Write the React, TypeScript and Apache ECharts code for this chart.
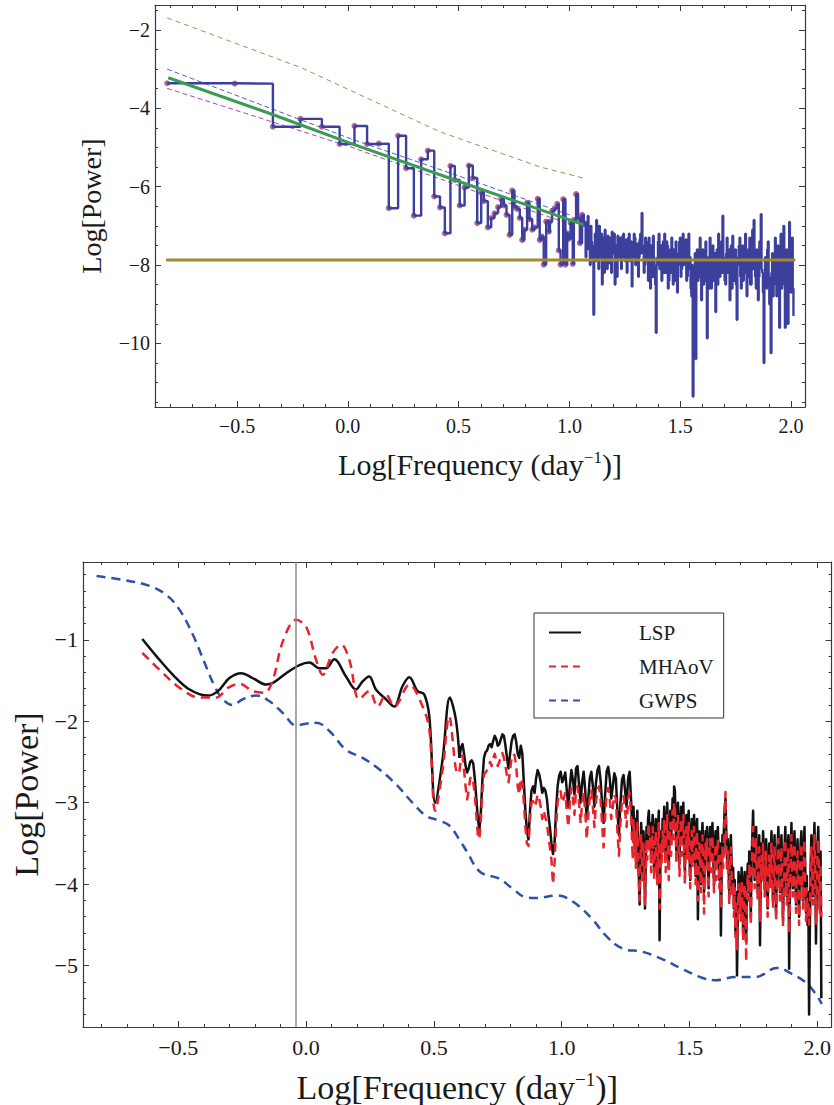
import React, { useEffect, useRef } from "react";
import * as echarts from "echarts";

const FONT = "'Liberation Serif', 'Times New Roman', serif";

// ---------------- TOP PANEL DATA ----------------
// low-frequency binned periodogram (points with dots)
const binX = [
  -0.815, -0.51, -0.338, -0.214, -0.117, -0.037, 0.03, 0.087, 0.14, 0.185,
  0.227, 0.263, 0.298, 0.331, 0.361, 0.39, 0.416, 0.438, 0.463, 0.483,
  0.505, 0.527, 0.546, 0.564, 0.584, 0.602, 0.614, 0.632, 0.647, 0.662,
  0.678, 0.692, 0.704, 0.716, 0.73, 0.742, 0.752, 0.764, 0.776, 0.787,
  0.797, 0.809, 0.82, 0.832, 0.842, 0.857, 0.866, 0.874, 0.884, 0.895,
  0.907, 0.912, 0.922, 0.934, 0.945, 0.952, 0.96, 0.972, 0.982, 0.99,
  0.994, 1.005, 1.015, 1.02, 1.03, 1.039, 1.047, 1.057, 1.065,
];
const binY = [
  -3.36, -3.37, -4.47, -4.27, -4.47, -4.91, -4.45, -4.91, -4.9, -6.55,
  -4.7, -5.53, -6.74, -5.3, -5.08, -6.25, -6.53, -7.19, -5.47, -5.83,
  -6.48, -6.02, -5.46, -5.78, -6.93, -6.15, -6.37, -7.04, -6.8, -6.68,
  -6.52, -6.32, -6.48, -6.72, -7.23, -6.1, -6.51, -6.57, -6.8, -7.36,
  -7.1, -6.41, -6.83, -7.1, -7.04, -6.31, -7.36, -7.27, -7.99, -6.89,
  -7.15, -6.89, -6.62, -6.55, -6.44, -7.63, -7.99, -6.32, -7.99, -7.19,
  -7.34, -6.92, -7.97, -6.85, -6.19, -6.8, -7.44, -6.72, -6.96,
];
// high-frequency unbinned part (no dots), sampled from x = 1.07 in steps of 0.0032
const noiseStart = 1.07;
const noiseStep = 0.0032;
const noiseY = [
  -6.9, -7.8, -7.5, -7.1, -6.75, -7.6, -7.3, -8.0, -7.0, -7.4,
  -7.6, -7.9, -9.27, -7.5, -7.2, -7.9, -6.85, -7.3, -7.4, -8.1,
  -7.0, -7.5, -7.8, -7.2, -8.5, -7.7, -7.3, -8.2, -7.1, -7.6,
  -7.6, -8.1, -7.25, -7.7, -7.95, -7.3, -7.4, -8.2, -7.15, -7.6,
  -7.7, -7.2, -8.5, -7.8, -7.5, -8.3, -7.25, -7.7, -7.8, -7.35,
  -7.3, -8.1, -7.55, -7.25, -7.2, -7.8, -7.9, -7.5, -7.35, -8.2,
  -7.6, -7.3, -7.2, -7.9, -7.7, -7.4, -8.55, -7.8, -7.5, -7.2,
  -7.3, -8.0, -7.9, -7.5, -7.45, -8.3, -7.8, -7.35, -7.2, -7.7,
  -6.67, -7.5, -7.6, -8.2, -8.0, -7.3, -7.4, -7.9, -7.9, -8.4,
  -7.3, -7.8, -8.6, -7.5, -7.6, -8.3, -7.25, -7.8, -8.1, -8.5,
  -9.73, -8.0, -7.8, -7.4, -7.2, -8.1, -7.9, -7.5, -8.4, -7.9,
  -7.4, -8.2, -7.2, -7.7, -8.2, -7.4, -7.5, -8.6, -8.4, -7.7,
  -7.6, -8.2, -7.3, -7.9, -8.5, -7.6, -7.8, -8.4, -7.4, -7.9,
  -8.7, -8.0, -7.7, -7.4, -7.3, -8.3, -8.1, -7.6, -7.2, -8.0,
  -7.9, -7.5, -7.35, -8.4, -8.3, -7.7, -7.2, -8.1, -7.8, -8.6,
  -8.8, -8.0, -11.36, -8.5, -8.2, -7.7, -10.4, -8.1, -7.6, -8.4,
  -8.3, -7.8, -7.3, -8.2, -8.9, -7.7, -7.6, -8.5, -8.4, -7.9,
  -7.4, -8.3, -9.87, -8.0, -7.8, -8.6, -7.3, -7.9, -8.6, -8.1,
  -7.5, -8.4, -8.1, -7.7, -9.2, -8.0, -7.6, -8.5, -7.2, -7.9,
  -8.3, -7.6, -7.4, -8.2, -6.74, -7.8, -7.9, -8.4, -8.5, -7.7,
  -7.3, -8.2, -8.0, -7.6, -8.9, -8.1, -7.5, -8.6, -7.25, -7.9,
  -8.4, -8.1, -7.6, -8.5, -9.4, -8.0, -7.8, -7.5, -7.3, -8.3,
  -8.6, -7.9, -7.5, -8.4, -8.2, -7.6, -7.2, -8.0, -8.8, -8.3,
  -7.6, -7.9, -7.3, -8.5, -8.5, -7.8, -7.1, -8.1, -6.85, -7.7,
  -8.3, -8.6, -7.6, -8.0, -8.9, -8.3, -7.4, -7.8, -6.7, -8.1,
  -8.2, -8.7, -10.5, -8.4, -7.8, -8.0, -8.6, -7.6, -7.4, -8.3,
  -9.0, -8.6, -10.25, -8.2, -7.7, -8.8, -8.4, -7.9, -7.3, -8.5,
  -8.8, -8.1, -7.5, -8.7, -9.6, -8.2, -7.2, -8.6, -8.5, -7.9,
  -7.0, -8.4, -9.6, -8.1, -7.6, -8.8, -9.5, -8.0, -6.9, -8.3,
  -8.7, -7.8, -7.3, -8.6, -9.3,
];
const fitX = [-0.81, -0.333, 0.01, 0.589, 1.063];
const fitY = [-3.22, -4.17, -4.89, -6.04, -6.97];
const upperX = [-0.815, 0.01, 0.589, 1.0];
const upperY = [-3.0, -4.77, -5.9, -6.72];
const lowerX = [-0.815, 0.01, 0.589, 1.0];
const lowerY = [-3.49, -4.98, -6.15, -6.95];
const sigX = [-0.815, -0.207, 0.416, 0.87, 1.063];
const sigY = [-1.69, -2.97, -4.6, -5.5, -5.78];
const whiteX = [-0.82, 2.02];
const whiteLevel = -7.87;

// ---------------- BOTTOM PANEL DATA ----------------
const gwpsX = [
  -0.82, -0.716, -0.612, -0.547, -0.495, -0.443, -0.397, -0.358, -0.326, -0.287,
  -0.248, -0.195, -0.143, -0.091, -0.039, 0.0, 0.039, 0.091, 0.156, 0.221,
  0.286, 0.352, 0.416, 0.469, 0.521, 0.56, 0.599, 0.629, 0.681, 0.754,
  0.806, 0.858, 0.9, 0.983, 1.046, 1.12, 1.172, 1.237, 1.315, 1.393,
  1.471, 1.549, 1.602, 1.68, 1.758, 1.842, 1.9, 1.966, 2.018,
];
const gwpsY = [
  -0.217, -0.266, -0.339, -0.449, -0.633, -0.939, -1.285, -1.57, -1.73, -1.8,
  -1.73, -1.685, -1.755, -1.9, -2.05, -2.03, -2.02, -2.12, -2.35, -2.45,
  -2.59, -2.775, -3.0, -3.16, -3.22, -3.28, -3.45, -3.6, -3.85, -3.93,
  -4.05, -4.16, -4.17, -4.14, -4.22, -4.43, -4.63, -4.79, -4.83, -4.92,
  -5.04, -5.15, -5.18, -5.14, -5.14, -5.03, -5.1, -5.24, -5.47,
];
const lspLowX = [
  -0.641, -0.586, -0.521, -0.456, -0.384, -0.345, -0.3, -0.254, -0.209, -0.156,
  -0.13, -0.078, -0.026, 0.013, 0.052, 0.078, 0.11, 0.156, 0.195, 0.221,
  0.247, 0.273, 0.3125, 0.345, 0.377, 0.404, 0.436, 0.462, 0.482, 0.505,
  0.534, 0.5625, 0.586, 0.6,
];
const lspLowY = [
  -0.99, -1.2, -1.43, -1.61, -1.685, -1.63, -1.47, -1.41, -1.47, -1.55,
  -1.53, -1.41, -1.31, -1.28, -1.35, -1.35, -1.24, -1.45, -1.61, -1.51,
  -1.45, -1.61, -1.73, -1.82, -1.57, -1.46, -1.63, -1.67, -1.94, -3.0,
  -2.47, -1.71, -1.98, -2.45,
];
const mhaovLowX = [
  -0.641, -0.573, -0.495, -0.417, -0.352, -0.306, -0.26, -0.209, -0.163, -0.13,
  -0.091, -0.039, 0.0, 0.039, 0.065, 0.104, 0.137, 0.169, 0.208, 0.247,
  0.28, 0.3125, 0.345, 0.404, 0.456, 0.482, 0.505, 0.534, 0.56, 0.592, 0.6,
];
const mhaovLowY = [
  -1.16, -1.37, -1.59, -1.71, -1.71, -1.59, -1.54, -1.63, -1.65, -1.49,
  -1.02, -0.755, -0.84, -1.245, -1.43, -1.16, -1.06, -1.245, -1.73, -1.63,
  -1.82, -1.67, -1.82, -1.55, -1.82, -2.1, -3.1, -2.6, -1.94, -2.63, -2.62,
];
// middle part, sampled from x = 0.600 in steps of 0.006 (to 1.278)
const midStart = 0.6;
const midStep = 0.006;
const lspMidY = [
  -2.45, -2.32, -2.28, -2.4, -2.55, -2.63, -2.58, -2.5, -2.48, -2.52,
  -2.7, -2.95, -3.2, -3.33, -3.1, -2.7, -2.45, -2.38, -2.36, -2.3,
  -2.28, -2.32, -2.24, -2.18, -2.22, -2.3, -2.28, -2.22, -2.16, -2.18,
  -2.3, -2.45, -2.58, -2.4, -2.25, -2.18, -2.16, -2.25, -2.4, -2.45,
  -2.3, -2.4, -2.75, -3.1, -3.35, -3.45, -3.1, -2.85, -2.8, -2.88,
  -2.7, -2.6, -2.65, -2.75, -2.88, -2.82, -2.85, -2.95, -3.15, -3.3,
  -3.5, -3.63, -3.5, -3.1, -2.8, -2.67, -2.62, -2.75, -2.7, -2.63,
  -2.85, -3.05, -2.8, -2.6, -2.72, -2.9, -2.58, -2.55, -2.78, -3.0,
  -2.75, -2.62, -2.85, -3.2, -2.95, -2.7, -2.62, -2.8, -3.05, -2.76,
  -2.6, -2.55, -2.72, -3.0, -3.25, -2.9, -2.62, -2.56, -2.7, -2.95,
  -2.8, -2.64, -2.7, -3.1, -3.4, -3.0, -2.72, -2.66, -2.85, -3.05,
  -2.7, -2.62, -3.0, -3.45,
];
const mhaovMidY = [
  -2.62, -2.45, -2.42, -2.6, -2.8, -2.96, -2.85, -2.7, -2.68, -2.75,
  -2.9, -3.15, -3.4, -3.45, -3.2, -2.85, -2.65, -2.63, -2.6, -2.55,
  -2.5, -2.55, -2.45, -2.4, -2.48, -2.55, -2.5, -2.42, -2.39, -2.45,
  -2.55, -2.67, -2.75, -2.6, -2.45, -2.4, -2.42, -2.55, -2.8, -2.9,
  -2.7, -2.75, -3.0, -3.3, -3.5, -3.53, -3.2, -3.0, -2.98, -3.05,
  -3.0, -2.9, -2.95, -3.05, -3.2, -3.1, -3.18, -3.25, -3.4, -3.55,
  -3.7, -4.0, -3.75, -3.3, -3.0, -2.9, -2.86, -3.0, -2.95, -2.88,
  -3.1, -3.3, -3.0, -2.82, -2.95, -3.15, -2.85, -2.8, -3.0, -3.25,
  -3.0, -2.88, -3.1, -3.45, -3.15, -2.92, -2.85, -3.05, -3.3, -3.0,
  -2.85, -2.8, -2.95, -3.25, -3.55, -3.15, -2.88, -2.82, -2.95, -3.2,
  -3.05, -2.9, -2.95, -3.35, -3.65, -3.25, -2.98, -2.92, -3.1, -3.3,
  -2.95, -2.88, -3.2, -3.7,
];
// dense high-frequency part, sampled from x = 1.281 in steps of 0.003
const hiStart = 1.281;
const hiStep = 0.003;
const lspHiY = [
  -3.05, -3.4, -3.2, -3.65, -3.3, -3.1, -3.55, -3.9, -4.25, -3.6,
  -3.25, -3.5, -3.85, -3.35, -3.6, -4.3, -3.7, -3.3, -3.55, -3.2,
  -3.1, -3.45, -3.25, -3.7, -3.35, -3.15, -3.5, -3.85, -3.4, -3.2,
  -3.55, -3.9, -3.3, -3.1, -4.69, -3.8, -3.35, -3.6, -3.2, -3.45,
  -3.05, -3.35, -3.7, -3.25, -3.0, -3.45, -3.8, -3.3, -3.1, -3.5,
  -3.2, -2.95, -3.3, -2.8, -2.85, -3.25, -3.6, -3.15, -3.0, -3.4,
  -3.75, -3.3, -3.05, -3.5, -3.2, -3.0, -3.45, -3.85, -3.4, -3.15,
  -3.55, -3.25, -3.1, -3.6, -3.95, -3.4, -3.2, -3.65, -3.35, -3.15,
  -3.5, -3.9, -3.3, -3.2, -4.43, -3.7, -3.35, -3.6, -4.0, -3.45,
  -3.25, -3.6, -4.1, -3.7, -3.35, -3.55, -3.3, -3.8, -4.05, -3.5,
  -3.3, -3.7, -3.45, -3.25, -3.65, -4.0, -3.55, -3.35, -3.8, -3.45,
  -3.3, -3.6, -3.95, -3.5, -4.63, -3.85, -3.4, -3.65, -3.3, -3.05,
  -2.95, -3.35, -3.7, -3.45, -3.8, -4.15, -3.6, -3.4, -3.75, -4.05,
  -3.8, -4.3, -3.95, -4.6, -4.1, -5.12, -4.4, -3.85, -4.25, -3.9,
  -4.35, -3.8, -4.1, -4.6, -4.05, -3.85, -4.3, -4.7, -4.0, -3.75,
  -4.1, -3.6, -3.85, -4.4, -3.7, -3.4, -3.1, -3.55, -3.95, -3.5,
  -3.3, -3.75, -4.1, -3.6, -3.4, -4.75, -3.9, -3.5, -3.8, -3.35,
  -3.6, -4.05, -3.7, -3.45, -3.85, -4.3, -3.75, -3.5, -3.95, -3.6,
  -3.35, -3.8, -4.2, -3.65, -3.4, -3.9, -4.35, -3.8, -3.5, -3.3,
  -3.7, -4.1, -3.6, -3.4, -3.85, -4.45, -3.95, -3.55, -3.3, -3.75,
  -4.15, -3.65, -3.4, -5.04, -4.1, -3.6, -3.25, -3.7, -4.05, -3.55,
  -3.35, -3.8, -4.25, -3.7, -3.45, -3.9, -4.4, -3.85, -3.5, -3.35,
  -3.75, -4.2, -3.6, -3.3, -3.8, -4.35, -3.9, -4.5, -4.1, -5.6,
  -4.6, -3.8, -3.4, -3.65, -4.15, -3.55, -3.25, -3.7, -4.73, -4.0,
  -3.5, -3.3, -3.85, -4.3, -3.6, -5.4,
];
const mhaovHiY = [
  -3.2, -3.55, -3.35, -3.8, -3.45, -3.25, -3.7, -4.0, -4.2, -3.75,
  -3.4, -3.65, -4.0, -3.5, -3.75, -4.25, -3.85, -3.45, -3.7, -3.35,
  -3.25, -3.6, -3.4, -3.85, -3.5, -3.3, -3.65, -3.95, -3.55, -3.35,
  -3.7, -4.0, -3.45, -3.25, -4.3, -3.95, -3.5, -3.75, -3.35, -3.6,
  -3.2, -3.5, -3.85, -3.4, -3.15, -3.6, -3.95, -3.45, -3.25, -3.65,
  -3.35, -3.1, -3.45, -3.0, -3.05, -3.4, -3.75, -3.3, -3.15, -3.55,
  -3.9, -3.45, -3.2, -3.65, -3.35, -3.15, -3.6, -4.0, -3.55, -3.3,
  -3.7, -3.4, -3.25, -3.75, -4.05, -3.55, -3.35, -3.8, -3.5, -3.3,
  -3.65, -4.0, -3.45, -3.35, -4.2, -3.85, -3.5, -3.75, -4.1, -3.6,
  -3.4, -3.75, -4.36, -3.85, -3.5, -3.7, -3.45, -3.95, -4.15, -3.65,
  -3.45, -3.85, -3.6, -3.4, -3.8, -4.1, -3.7, -3.5, -3.95, -3.6,
  -3.45, -3.75, -4.05, -3.65, -4.3, -3.95, -3.55, -3.8, -3.45, -3.2,
  -2.87, -3.5, -3.85, -3.6, -3.95, -4.25, -3.75, -3.55, -3.9, -4.15,
  -3.95, -4.4, -4.05, -4.65, -4.2, -4.8, -4.5, -4.0, -4.35, -4.05,
  -4.45, -3.95, -4.2, -4.7, -4.15, -4.0, -4.4, -4.95, -4.1, -3.9,
  -4.2, -3.75, -4.0, -4.5, -3.85, -3.55, -3.3, -3.7, -4.05, -3.65,
  -3.45, -3.9, -4.2, -3.75, -3.55, -4.45, -4.0, -3.65, -3.95, -3.5,
  -3.75, -4.15, -3.85, -3.6, -4.0, -4.4, -3.9, -3.65, -4.05, -3.75,
  -3.5, -3.95, -4.3, -3.8, -3.55, -4.05, -4.45, -3.95, -3.65, -3.45,
  -3.85, -4.2, -3.75, -3.55, -4.0, -4.5, -4.05, -3.7, -3.45, -3.9,
  -4.25, -3.8, -3.55, -4.6, -4.2, -3.75, -3.4, -3.85, -4.15, -3.7,
  -3.5, -3.95, -4.35, -3.85, -3.6, -4.05, -4.5, -4.0, -3.65, -3.5,
  -3.9, -4.3, -3.75, -3.45, -3.95, -4.45, -4.05, -4.4, -4.25, -4.5,
  -4.4, -3.95, -3.55, -3.8, -4.25, -3.7, -3.4, -3.85, -4.5, -4.1,
  -3.65, -3.45, -3.95, -4.35, -3.75, -4.4,
];
const markerLineX = -0.035;

// tick values
const xMajors = [-0.5, 0, 0.5, 1, 1.5, 2];
const topYMajors = [-10, -8, -6, -4, -2];
const botYMajors = [-5, -4, -3, -2, -1];

function minorTicks(from: number, to: number, step: number, majors: number[]) {
  const out: number[] = [];
  const n = Math.round((to - from) / step);
  for (let i = 0; i <= n; i++) {
    const v = Math.round((from + i * step) * 1000) / 1000;
    if (!majors.some((m) => Math.abs(m - v) < 1e-6)) out.push(v);
  }
  return out;
}

const zip = (xs: number[], ys: number[]) => xs.map((x, i) => [x, ys[i]]);
const gridSeq = (start: number, step: number, ys: number[]) =>
  ys.map((y, i) => [Math.round((start + i * step) * 10000) / 10000, y]);

const fmtX = (v: number) => (v < 0 ? "\u2212" : "") + Math.abs(v).toFixed(1);
const fmtY = (v: number) => (v < 0 ? "\u2212" : "") + Math.abs(v);

const FRAME = "#3a3a3a";

function makeAxes(
  dim: "x" | "y",
  gridIndex: number,
  min: number,
  max: number,
  majors: number[],
  minors: number[],
  label: any,
  name: any
) {
  const sides = dim === "x" ? ["bottom", "top"] : ["left", "right"];
  const res: any[] = [];
  sides.forEach((pos, si) => {
    res.push({
      type: "value",
      gridIndex,
      position: pos,
      min,
      max,
      splitLine: { show: false },
      axisLine: { show: true, onZero: false, lineStyle: { color: FRAME, width: 1.2 } },
      axisTick: { show: true, inside: true, length: 6, customValues: majors, lineStyle: { color: FRAME, width: 1 } },
      axisLabel:
        si === 0
          ? {
              show: true,
              customValues: majors,
              formatter: dim === "x" ? fmtX : fmtY,
              fontFamily: FONT,
              color: "#1a1a1a",
              ...label,
            }
          : { show: false },
      ...(si === 0 ? name : {}),
    });
    res.push({
      type: "value",
      gridIndex,
      position: pos,
      min,
      max,
      splitLine: { show: false },
      axisLine: { show: false, onZero: false },
      axisTick: { show: true, inside: true, length: 3, customValues: minors, lineStyle: { color: FRAME, width: 1 } },
      axisLabel: { show: false },
    });
  });
  return res;
}

const xTitle = (size: number, gap: number) => ({
  name: "Log[Frequency (day{sup|\u22121})]",
  nameLocation: "middle",
  nameGap: gap,
  nameTextStyle: {
    fontFamily: FONT,
    fontSize: size,
    color: "#1a1a1a",
    rich: {
      sup: {
        fontFamily: FONT,
        fontSize: Math.round(size * 0.55),
        color: "#1a1a1a",
        verticalAlign: "bottom",
        padding: [0, 0, Math.round(size * 0.45), 0],
      },
    },
  },
});
const yTitle = (size: number, gap: number) => ({
  name: "Log[Power]",
  nameLocation: "middle",
  nameGap: gap,
  nameTextStyle: { fontFamily: FONT, fontSize: size, color: "#1a1a1a" },
});

export default function App() {
  const ref = useRef<HTMLDivElement>(null);
  useEffect(() => {
    const chart = echarts.init(ref.current!, null, { renderer: "svg" });

    const topXMin = -0.87, topXMax = 2.063, topYMin = -11.625, topYMax = -1.362;
    const botXMin = -0.873, botXMax = 2.056, botYMin = -5.754, botYMax = -0.045;

    const xAxes = [
      ...makeAxes("x", 0, topXMin, topXMax, xMajors, minorTicks(-0.8, 2.0, 0.1, xMajors), { fontSize: 20, margin: 9 }, xTitle(30, 42)),
      ...makeAxes("x", 1, botXMin, botXMax, xMajors, minorTicks(-0.8, 2.0, 0.1, xMajors), { fontSize: 22, margin: 9 }, xTitle(34, 43)),
    ];
    const yAxes = [
      ...makeAxes("y", 0, topYMin, topYMax, topYMajors, minorTicks(-11.5, -1.5, 0.5, topYMajors), { fontSize: 20, margin: 5 }, yTitle(28, 50)),
      ...makeAxes("y", 1, botYMin, botYMax, botYMajors, minorTicks(-5.6, -0.2, 0.2, botYMajors), { fontSize: 22, margin: 5 }, yTitle(34, 39)),
    ];

    const spectrum = [...zip(binX, binY), ...gridSeq(noiseStart, noiseStep, noiseY)];
    const lspLow = zip(lspLowX, lspLowY);
    const mhaovLow = zip(mhaovLowX, mhaovLowY);
    const lspHigh = [...gridSeq(midStart, midStep, lspMidY), ...gridSeq(hiStart, hiStep, lspHiY)];
    const mhaovHigh = [...gridSeq(midStart, midStep, mhaovMidY), ...gridSeq(hiStart, hiStep, mhaovHiY)];

    const option: any = {
      animation: false,
      backgroundColor: "#ffffff",
      grid: [
        { left: 155, top: 5, width: 650, height: 402 },
        { left: 83, top: 562, width: 750, height: 466 },
      ],
      xAxis: xAxes,
      yAxis: yAxes,
      legend: {
        data: [
          { name: "LSP" },
          { name: "MHAoV", lineStyle: { type: [7, 5] } },
          { name: "GWPS", lineStyle: { type: [7, 5] } },
        ],
        orient: "vertical",
        left: 534,
        top: 613,
        padding: [9, 10, 7, 14],
        itemGap: 13,
        itemWidth: 32,
        itemHeight: 14,
        borderColor: "#333",
        borderWidth: 1,
        backgroundColor: "#ffffff",
        itemStyle: { opacity: 0 },
        textStyle: {
          fontFamily: FONT,
          fontSize: 21,
          color: "#1a1a1a",
          width: 150,
          padding: [0, 0, 0, 53],
        },
      },
      series: [
        // ---------- top panel ----------
        {
          name: "99% significance",
          type: "line",
          xAxisIndex: 0,
          yAxisIndex: 0,
          data: zip(sigX, sigY),
          symbol: "none",
          lineStyle: { color: "#b8844a", width: 1, type: [5, 4] },
          silent: true,
        },
        {
          name: "upper",
          type: "line",
          xAxisIndex: 0,
          yAxisIndex: 0,
          data: zip(upperX, upperY),
          symbol: "none",
          lineStyle: { color: "#4a63b8", width: 1, type: [5, 3] },
          silent: true,
        },
        {
          name: "lower",
          type: "line",
          xAxisIndex: 0,
          yAxisIndex: 0,
          data: zip(lowerX, lowerY),
          symbol: "none",
          lineStyle: { color: "#a84aa8", width: 1, type: [5, 3] },
          silent: true,
        },
        {
          name: "periodogram",
          type: "line",
          xAxisIndex: 0,
          yAxisIndex: 0,
          data: spectrum,
          step: "end",
          symbol: "none",
          lineStyle: { color: "#3c3f9c", width: 2.4 },
          silent: true,
        },
        {
          name: "bins",
          type: "scatter",
          xAxisIndex: 0,
          yAxisIndex: 0,
          data: zip(binX, binY),
          symbolSize: 6,
          itemStyle: { color: "#a3407c" },
          silent: true,
        },
        {
          name: "fit",
          type: "line",
          xAxisIndex: 0,
          yAxisIndex: 0,
          data: zip(fitX, fitY),
          symbol: "none",
          lineStyle: { color: "#3a9b52", width: 3 },
          silent: true,
        },
        {
          name: "white",
          type: "line",
          xAxisIndex: 0,
          yAxisIndex: 0,
          data: whiteX.map((x) => [x, whiteLevel]),
          symbol: "none",
          lineStyle: { color: "#a08a2e", width: 3 },
          silent: true,
        },
        {
          name: "notes",
          type: "scatter",
          xAxisIndex: 0,
          yAxisIndex: 0,
          symbolSize: 1,
          itemStyle: { opacity: 0 },
          silent: true,
          data: [
            { value: [0.597, -3.79], label: { formatter: "99% significance" } },
            { value: [-0.292, -7.41], label: { formatter: "White noise level" } },
          ],
          label: {
            show: true,
            position: "inside",
            fontFamily: FONT,
            fontSize: 20,
            color: "#1a1a1a",
          },
        },
        // ---------- bottom panel ----------
        {
          name: "marker",
          type: "line",
          xAxisIndex: 4,
          yAxisIndex: 4,
          data: [],
          silent: true,
          markLine: {
            silent: true,
            symbol: "none",
            label: { show: false },
            lineStyle: { color: "#8a8a8a", width: 1.5, type: "solid" },
            data: [{ xAxis: markerLineX }],
          },
        },
        {
          name: "GWPS",
          type: "line",
          xAxisIndex: 4,
          yAxisIndex: 4,
          data: zip(gwpsX, gwpsY),
          smooth: 0.4,
          symbol: "none",
          lineStyle: { color: "#2f50a8", width: 2.5, type: [9, 6] },
          itemStyle: { color: "#2f50a8" },
          silent: true,
        },
        {
          name: "LSP",
          type: "line",
          xAxisIndex: 4,
          yAxisIndex: 4,
          data: lspLow,
          smooth: 0.35,
          symbol: "none",
          lineStyle: { color: "#111111", width: 2.5 },
          itemStyle: { color: "#111111" },
          silent: true,
        },
        {
          name: "LSP",
          type: "line",
          xAxisIndex: 4,
          yAxisIndex: 4,
          data: lspHigh,
          symbol: "none",
          lineStyle: { color: "#111111", width: 2.5, join: "round" },
          itemStyle: { color: "#111111" },
          silent: true,
        },
        {
          name: "MHAoV",
          type: "line",
          xAxisIndex: 4,
          yAxisIndex: 4,
          data: mhaovLow,
          smooth: 0.35,
          symbol: "none",
          lineStyle: { color: "#e8232b", width: 2.5, type: [9, 6] },
          itemStyle: { color: "#e8232b" },
          silent: true,
        },
        {
          name: "MHAoV",
          type: "line",
          xAxisIndex: 4,
          yAxisIndex: 4,
          data: mhaovHigh,
          symbol: "none",
          lineStyle: { color: "#e8232b", width: 2.5, type: [9, 6], join: "round" },
          itemStyle: { color: "#e8232b" },
          silent: true,
        },
      ],
    };

    chart.setOption(option);
    return () => chart.dispose();
  }, []);

  return (
    <div
      ref={ref}
      style={{ position: "absolute", left: 0, top: 0, width: 834, height: 1105, background: "#fff" }}
    />
  );
}
